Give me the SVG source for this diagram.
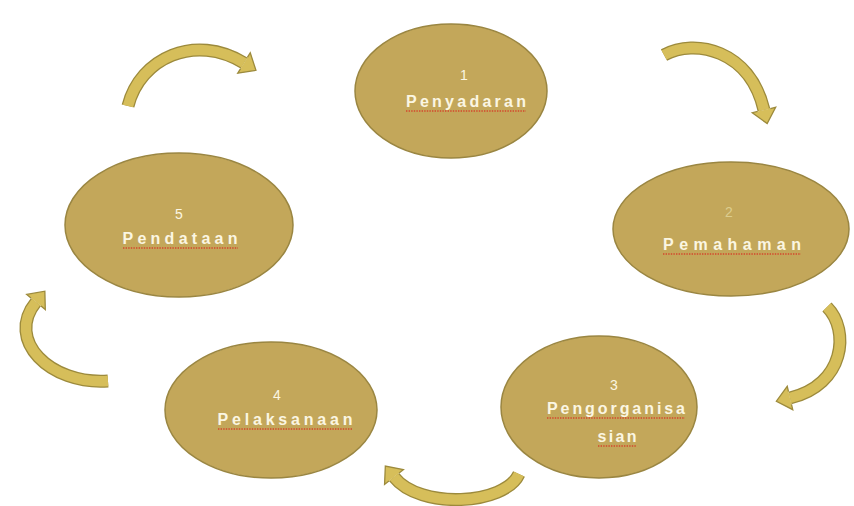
<svg xmlns="http://www.w3.org/2000/svg" width="854" height="506" viewBox="0 0 854 506">
  <defs>
    <style>
      .node { fill: #c3a75a; stroke: #9a8642; stroke-width: 1.5; }
      .num { font-family: "Liberation Sans", Arial, sans-serif; font-size: 14px; fill: #fbf6e2; text-anchor: middle; }
      .lbl { font-family: "Liberation Sans", Arial, sans-serif; font-size: 16px; font-weight: bold; fill: #fbf6e2; text-anchor: middle; }
      .squig { stroke: #d4472c; stroke-width: 1.4; stroke-dasharray: 1.4 1.2; fill: none; }
      .arr-out { fill: none; stroke: #9c8a3c; stroke-width: 13; stroke-linecap: butt; marker-end: url(#head); }
      .arr-in { fill: none; stroke: #d6be5a; stroke-width: 10.4; stroke-linecap: butt; }
    </style>
    <marker id="head" markerUnits="userSpaceOnUse" viewBox="-2 -15 20 30" markerWidth="20" markerHeight="30" refX="0" refY="0" orient="auto" overflow="visible">
      <path d="M0,-6.5 L0,-12 L14,0 L0,12 L0,6.5" fill="#d6be5a" stroke="#9c8a3c" stroke-width="1.3" stroke-linejoin="miter"/>
    </marker>
  </defs>

  <g id="connectors">
    <g id="arrow-5-1">
      <path class="arr-out" d="M128 106 C140 58, 195 33, 244 63"/>
      <path class="arr-in" d="M128 106 C140 58, 195 33, 244 63"/>
    </g>
    <g id="arrow-1-2">
      <path class="arr-out" d="M664 55 C695 38, 750 50, 764 110"/>
      <path class="arr-in" d="M664 55 C695 38, 750 50, 764 110"/>
    </g>
    <g id="arrow-2-3">
      <path class="arr-out" d="M827 307 C850 330, 845 385, 790 398"/>
      <path class="arr-in" d="M827 307 C850 330, 845 385, 790 398"/>
    </g>
    <g id="arrow-3-4">
      <path class="arr-out" d="M519 474 C505 505, 420 510, 394 477"/>
      <path class="arr-in" d="M519 474 C505 505, 420 510, 394 477"/>
    </g>
    <g id="arrow-4-5">
      <path class="arr-out" d="M108 381 C50 385, 5 340, 36 302"/>
      <path class="arr-in" d="M108 381 C50 385, 5 340, 36 302"/>
    </g>
  </g>

  <g id="node1">
    <ellipse class="node" cx="451" cy="91" rx="96" ry="67"/>
    <text class="num" x="464" y="80">1</text>
    <text class="lbl" x="466" y="107" textLength="120" lengthAdjust="spacing">Penyadaran</text>
    <line class="squig" x1="406" y1="111" x2="526" y2="111"/>
  </g>

  <g id="node2">
    <ellipse class="node" cx="731" cy="229" rx="118" ry="67"/>
    <text class="num" x="729" y="217" style="fill:#dccd8e">2</text>
    <text class="lbl" x="732" y="250" textLength="138" lengthAdjust="spacing">Pemahaman</text>
    <line class="squig" x1="663" y1="254" x2="801" y2="254"/>
  </g>

  <g id="node3">
    <ellipse class="node" cx="599" cy="407" rx="98" ry="71"/>
    <text class="num" x="614" y="390">3</text>
    <text class="lbl" x="616" y="414" textLength="138" lengthAdjust="spacing">Pengorganisa</text>
    <line class="squig" x1="547" y1="418" x2="685" y2="418"/>
    <text class="lbl" x="617" y="442" textLength="39" lengthAdjust="spacing">sian</text>
    <line class="squig" x1="598" y1="446" x2="637" y2="446"/>
  </g>

  <g id="node4">
    <ellipse class="node" cx="271" cy="410" rx="106" ry="68"/>
    <text class="num" x="277" y="400">4</text>
    <text class="lbl" x="285" y="425" textLength="135" lengthAdjust="spacing">Pelaksanaan</text>
    <line class="squig" x1="218" y1="429" x2="353" y2="429"/>
  </g>

  <g id="node5">
    <ellipse class="node" cx="179" cy="225" rx="114" ry="72"/>
    <text class="num" x="179" y="219">5</text>
    <text class="lbl" x="180" y="244" textLength="115" lengthAdjust="spacing">Pendataan</text>
    <line class="squig" x1="123" y1="248" x2="238" y2="248"/>
  </g>
</svg>
